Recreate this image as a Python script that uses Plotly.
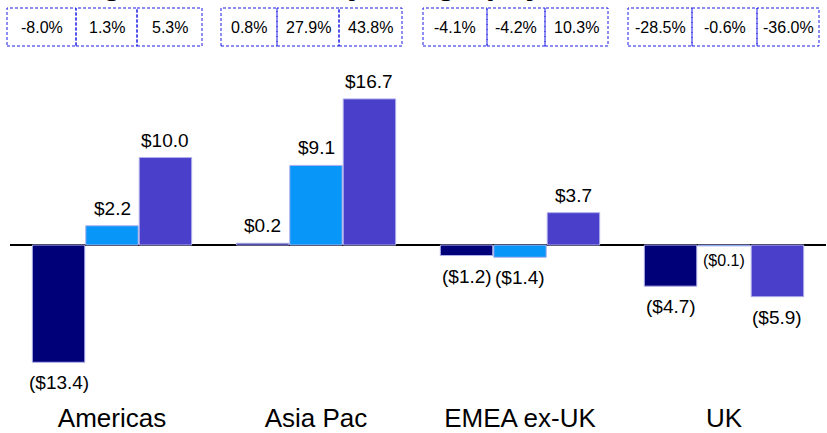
import plotly.graph_objects as go

# ---------------- data ----------------
categories = ["Americas", "Asia Pac", "EMEA ex-UK", "UK"]
series_a = [-13.4, 0.2, -1.2, -4.7]   # dark navy
series_b = [2.2, 9.1, -1.4, -0.1]     # light blue
series_c = [10.0, 16.7, 3.7, -5.9]    # purple
pct_a = ["-8.0%", "0.8%", "-4.1%", "-28.5%"]
pct_b = ["1.3%", "27.9%", "-4.2%", "-0.6%"]
pct_c = ["5.3%", "43.8%", "10.3%", "-36.0%"]
title_text = "Change in Revenue by Geography"

# ---------------- layout constants ----------------
W, H = 827, 433
ML, MR, MT, MB = 10, 1, 50, 33
PW, PH = W - ML - MR, H - MT - MB
Y_RANGE = [-17.71, 22.29]
BAR_W = 0.257
OFFS = [-0.262, 0.0, 0.262]
COLORS = ["#000078", "#0896f8", "#4a3fcb"]
FONT = "Liberation Sans, Arial, sans-serif"

# cell edges for percentage boxes (pixel x, per group)
CELL_EDGES = [
    [7, 76, 137, 202],
    [221, 277, 339, 402],
    [423, 487, 545, 608],
    [628, 692, 757, 819],
]
CELL_TOP, CELL_BOT = 8, 46


def px_to_paper_x(px):
    return (px - ML) / PW


def py_to_paper_y(py):
    return (H - MB - py) / PH


def fmt(v):
    return f"${v:.1f}" if v >= 0 else f"(${abs(v):.1f})"


fig = go.Figure()
all_series = [series_a, series_b, series_c]
for k, ser in enumerate(all_series):
    fig.add_trace(go.Bar(
        x=[i + OFFS[k] for i in range(len(categories))],
        y=ser,
        width=BAR_W,
        marker=dict(color=COLORS[k], line=dict(color="rgba(175,175,235,1)", width=1)),
        showlegend=False,
        hoverinfo="skip",
    ))

annotations = []
# value labels
for k, ser in enumerate(all_series):
    for i, v in enumerate(ser):
        small = abs(v) < 0.15 and v < 0
        annotations.append(dict(
            x=i + OFFS[k], y=v, xref="x", yref="y",
            text=fmt(v), showarrow=False,
            yanchor="bottom" if v >= 0 else "top",
            yshift=5 if v >= 0 else (-4 if small else -8),
            font=dict(family=FONT, size=16 if small else 19, color="#000000"),
        ))

# percentage boxes
pct_all = [pct_a, pct_b, pct_c]
shapes = []
for g, edges in enumerate(CELL_EDGES):
    for c in range(3):
        x0, x1 = edges[c], edges[c + 1]
        shapes.append(dict(
            type="rect", xref="paper", yref="paper",
            x0=px_to_paper_x(x0), x1=px_to_paper_x(x1),
            y0=py_to_paper_y(CELL_BOT), y1=py_to_paper_y(CELL_TOP),
            line=dict(color="#1a1ae6", width=1, dash="3px,2px"),
        ))
        annotations.append(dict(
            x=px_to_paper_x((x0 + x1) / 2), y=py_to_paper_y((CELL_TOP + CELL_BOT) / 2),
            xref="paper", yref="paper", text=pct_all[c][g], showarrow=False,
            xanchor="center", yanchor="middle",
            font=dict(family=FONT, size=16, color="#000000"),
        ))

# title (mostly cut off at the top edge)
annotations.append(dict(
    x=px_to_paper_x(20), y=py_to_paper_y(3), xref="paper", yref="paper",
    text=f"<b>{title_text}</b>", showarrow=False, xanchor="left", yanchor="bottom",
    font=dict(family=FONT, size=32, color="#000000"),
))

fig.update_layout(
    width=W, height=H,
    margin=dict(l=ML, r=MR, t=MT, b=MB, autoexpand=False),
    paper_bgcolor="white", plot_bgcolor="white",
    barmode="overlay",
    shapes=shapes, annotations=annotations,
    xaxis=dict(range=[-0.5, 3.5], tickvals=list(range(len(categories))), ticktext=categories,
               showgrid=False, zeroline=False, showline=False, ticks="",
               automargin=False,
               tickfont=dict(family=FONT, size=26, color="#000000")),
    yaxis=dict(range=Y_RANGE, showgrid=False, showticklabels=False, ticks="",
               automargin=False,
               zeroline=True, zerolinecolor="#000000", zerolinewidth=2, layer="above traces"),
)

fig.write_html("out.html", config={"displayModeBar": False},
               post_script="document.body.style.margin='0';document.body.style.overflow='hidden';")
